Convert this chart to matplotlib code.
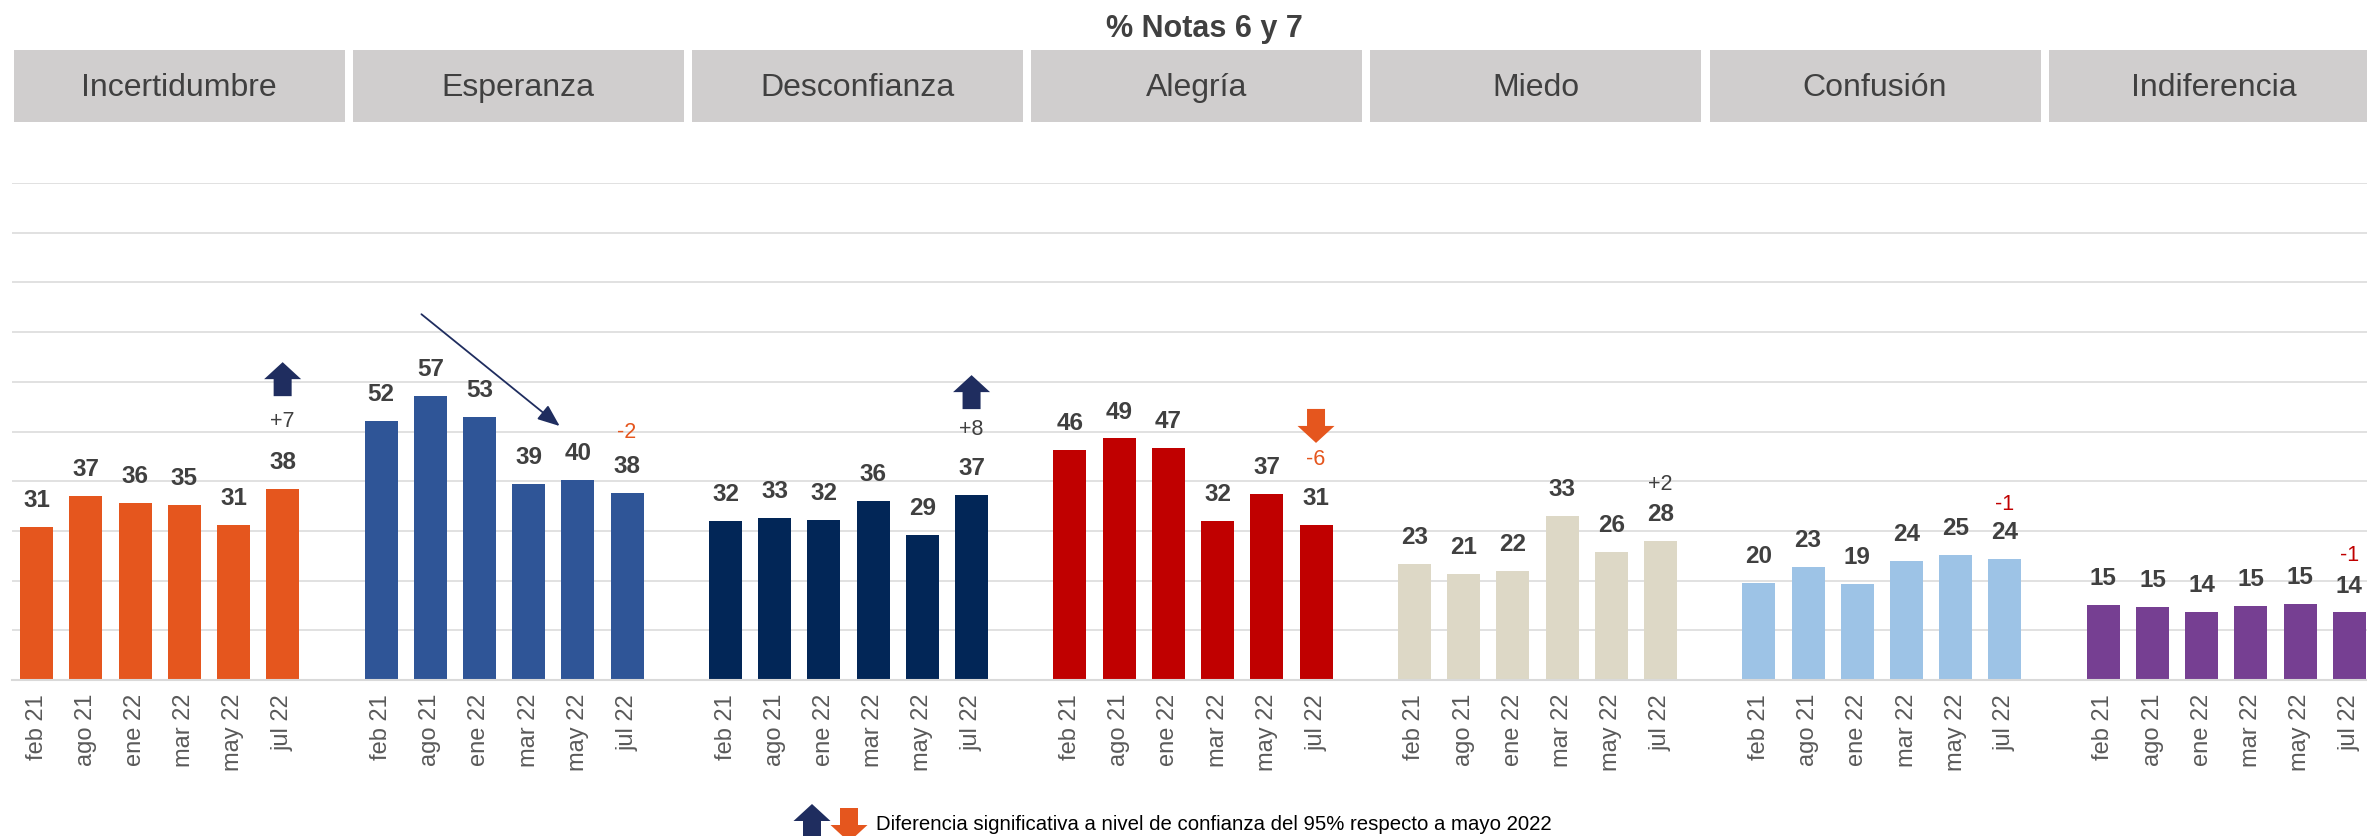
import matplotlib.pyplot as plt
import matplotlib.transforms as mtransforms
from matplotlib.patches import Polygon, Rectangle
import numpy as np

plt.rcParams['font.family'] = ['Liberation Sans', 'DejaVu Sans']

# --- data -------------------------------------------------------------
emotions = ['Incertidumbre', 'Esperanza', 'Desconfianza', 'Alegría',
            'Miedo', 'Confusión', 'Indiferencia']
waves = ['feb 21', 'ago 21', 'ene 22', 'mar 22', 'may 22', 'jul 22']

incertidumbre = [30.8, 37.0, 35.6, 35.2, 31.2, 38.4]
esperanza = [52.1, 57.1, 52.9, 39.4, 40.2, 37.7]
desconfianza = [32.0, 32.6, 32.2, 36.0, 29.2, 37.2]
alegria = [46.3, 48.6, 46.7, 32.0, 37.4, 31.2]
miedo = [23.3, 21.3, 21.9, 33.0, 25.8, 28.0]
confusion = [19.6, 22.7, 19.4, 23.9, 25.1, 24.3]
indiferencia = [15.1, 14.7, 13.7, 14.9, 15.3, 13.6]

# change jul 22 vs may 22 and significance flag
deltas = ['+7', '-2', '+8', '-6', '+2', '-1', '-1']
significant = ['up', None, 'up', 'down', None, None, None]

series = [incertidumbre, esperanza, desconfianza, alegria,
          miedo, confusion, indiferencia]

# --- style ------------------------------------------------------------
bar_colors = ['#E5561E', '#2F5597', '#022657', '#C00000',
              '#DDD8C6', '#9DC3E6', '#763F92']
delta_colors = ['#404040', '#E5561E', '#404040', '#E5561E',
                '#404040', '#C00000', '#C00000']
delta_off = [68, 60, 66, 65, 56, 55, 57]     # px above last bar
arrow_off = [110, 0, 103, 99, 0, 0, 0]        # px above last bar
NAVY = '#1F2D5F'
ORANGE = '#E5561E'
TXT = '#404040'

W, H = 2367, 836
fig = plt.figure(figsize=(W / 100, H / 100), dpi=100)
ax = fig.add_axes([12 / W, (H - 680) / H, 2362 / W, 497 / H])
ax.set_xlim(-0.5, 47.5)
ax.set_ylim(0, 100)


def block_arrow(cx, cy, direction, color, trans, dy=0):
    s = 1 if direction == 'up' else -1
    pts = np.array([(0, 17), (18.5, 0), (9, 0), (9, -17),
                    (-9, -17), (-9, 0), (-18.5, 0)], float)
    pts[:, 1] *= s
    tr = mtransforms.Affine2D().translate(0, dy) + \
        mtransforms.ScaledTranslation(cx, cy, trans)
    return Polygon(pts, closed=True, transform=tr, facecolor=color,
                   edgecolor='none', zorder=5)


gap = 7
ticks, tick_labels = [], []
for g, vals in enumerate(series):
    x = g * gap + np.arange(len(waves))
    ax.bar(x, vals, width=0.67, color=bar_colors[g], zorder=2)
    for xi, v in zip(x, vals):
        ax.annotate(f'{v:.0f}', (xi, v), xytext=(0, 19),
                    textcoords='offset points', ha='center', va='center',
                    fontsize=17.5, fontweight='bold', color=TXT)
    # delta vs previous wave
    ax.annotate(deltas[g], (x[-1], vals[-1]),
                xytext=(0, delta_off[g] * 0.72), textcoords='offset points',
                ha='center', va='center', fontsize=15.5, color=delta_colors[g])
    if significant[g]:
        col = NAVY if significant[g] == 'up' else ORANGE
        ax.add_artist(block_arrow(x[-1], vals[-1], significant[g], col,
                                  ax.transData, dy=arrow_off[g]))
    ticks.extend(x)
    tick_labels.extend(waves)

# trend arrow in Esperanza
ax.annotate('', xy=(7 + 3.63, 51.1), xytext=(7 + 0.82, 73.6),
            arrowprops=dict(arrowstyle='-|>,head_length=0.45,head_width=0.18',
                            color=NAVY, lw=1.3, mutation_scale=30,
                            shrinkA=0, shrinkB=0), zorder=6)

ax.set_xticks(ticks)
ax.set_xticklabels(tick_labels, rotation=90, fontsize=17, color='#595959')
ax.tick_params(axis='x', length=0, pad=10)
ax.set_yticks(np.arange(0, 101, 10))
ax.tick_params(axis='y', length=0, labelleft=False)
ax.grid(axis='y', color='#D9D9D9', lw=1.1)
ax.set_axisbelow(True)
for sp in ['top', 'right', 'left']:
    ax.spines[sp].set_visible(False)
ax.spines['bottom'].set_color('#D9D9D9')
ax.spines['bottom'].set_linewidth(1.5)

# panel headers
for i, name in enumerate(emotions):
    x0 = 13.6 + i * 339.2
    fig.add_artist(Rectangle((x0 / W, (H - 122) / H), 331 / W, 72 / H,
                             transform=fig.transFigure, facecolor='#D0CECE',
                             edgecolor='none'))
    fig.text((x0 + 165.5) / W, (H - 88) / H, name, ha='center', va='center',
             fontsize=23, color=TXT)

fig.text(1204 / W, (H - 29) / H, '% Notas 6 y 7', ha='center', va='center',
         fontsize=22, fontweight='bold', color=TXT)

# footnote with legend arrows
ident = mtransforms.IdentityTransform()
fig.add_artist(block_arrow(812, H - 821, 'up', NAVY, ident))
fig.add_artist(block_arrow(849, H - 825, 'down', ORANGE, ident))
fig.text(876 / W, (H - 824) / H,
         'Diferencia significativa a nivel de confianza del 95% respecto a mayo 2022',
         ha='left', va='center', fontsize=14.7, color='black')

fig.savefig('out.png', dpi=100)
